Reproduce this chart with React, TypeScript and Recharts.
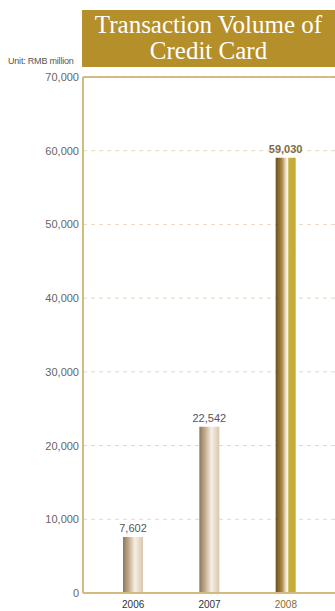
import React from 'react';
import {
  BarChart,
  Bar,
  XAxis,
  YAxis,
  CartesianGrid,
  ReferenceLine,
  LabelList,
  Cell,
} from 'recharts';

const years = ['2006', '2007', '2008'];
const volumes = [7602, 22542, 59030];
const yTicks = [0, 10000, 20000, 30000, 40000, 50000, 60000, 70000];

const data = years.map((year, i) => ({ year, volume: volumes[i] }));

const GOLD = '#b58f2a';
const HIGHLIGHT = '2008';

const fmt = (v: number) => v.toLocaleString('en-US');

const XTick = (props: any) => {
  const { x, payload } = props;
  const hot = payload.value === HIGHLIGHT;
  return (
    <text x={x} y={608} textAnchor="middle" fontSize={10} fill={hot ? '#8a6a30' : '#333'}>
      {payload.value}
    </text>
  );
};

const YTick = (props: any) => {
  const { y, payload } = props;
  return (
    <text x={79} y={y + 4} textAnchor="end" fontSize={11} fill="#666">
      {fmt(payload.value)}
    </text>
  );
};

const ValueLabel = (props: any) => {
  const { x, y, width, value, index } = props;
  const hot = years[index] === HIGHLIGHT;
  return (
    <text
      x={x + width / 2}
      y={y - 5}
      textAnchor="middle"
      fontSize={11}
      fontWeight={hot ? 'bold' : 'normal'}
      fill={hot ? '#7d6a45' : '#555'}
    >
      {fmt(value)}
    </text>
  );
};

const App: React.FC = () => {
  return (
    <div
      style={{
        position: 'absolute',
        left: 0,
        top: 0,
        width: 335,
        height: 611,
        fontFamily: '"Liberation Sans", Arial, sans-serif',
        background: '#fff',
      }}
    >
      <div
        style={{
          position: 'absolute',
          left: 82,
          top: 10,
          width: 253,
          height: 57,
          background: GOLD,
          color: '#fff',
          fontFamily: '"Liberation Serif", "Times New Roman", serif',
          fontSize: 25,
          lineHeight: '26px',
          textAlign: 'center',
          paddingTop: 2,
          boxSizing: 'border-box',
          whiteSpace: 'nowrap',
        }}
      >
        Transaction Volume of
        <br />
        Credit Card
      </div>
      <div
        style={{
          position: 'absolute',
          left: 8,
          top: 56,
          fontSize: 9,
          color: '#555',
          letterSpacing: -0.2,
        }}
      >
        Unit: RMB million
      </div>
      <BarChart
        width={335}
        height={611}
        data={data}
        margin={{ top: 77, right: 0, left: 0, bottom: 0 }}
        style={{ fontFamily: '"Liberation Sans", Arial, sans-serif' }}
      >
        <defs>
          <linearGradient id="beige" x1="0" y1="0" x2="1" y2="0">
            <stop offset="0%" stopColor="#8f7658" />
            <stop offset="35%" stopColor="#cdb89c" />
            <stop offset="60%" stopColor="#f6efe6" />
            <stop offset="100%" stopColor="#d9c6ad" />
          </linearGradient>
          <linearGradient id="goldbar" x1="0" y1="0" x2="1" y2="0">
            <stop offset="0%" stopColor="#6a5020" />
            <stop offset="30%" stopColor="#a8843e" />
            <stop offset="50%" stopColor="#e8dcc0" />
            <stop offset="58%" stopColor="#ffffff" />
            <stop offset="66%" stopColor="#c8b040" />
            <stop offset="100%" stopColor="#c4a832" />
          </linearGradient>
        </defs>
        <CartesianGrid
          vertical={false}
          stroke="#e8d6bb"
          strokeDasharray="4 4"
        />
        <XAxis
          dataKey="year"
          height={18}
          axisLine={{ stroke: '#d4bb80', strokeWidth: 2 }}
          tickLine={false}
          tick={<XTick />}
          padding={{ left: 12, right: 11 }}
          interval={0}
        />
        <YAxis
          width={83}
          domain={[0, 70000]}
          ticks={yTicks}
          axisLine={{ stroke: '#d4bb80', strokeWidth: 2 }}
          tickLine={false}
          tick={<YTick />}
        />
        <ReferenceLine y={70000} stroke="#c8a860" strokeWidth={1.5} />
        <Bar dataKey="volume" barSize={20} isAnimationActive={false}>
          {data.map((d) => (
            <Cell key={d.year} fill={d.year === HIGHLIGHT ? 'url(#goldbar)' : 'url(#beige)'} />
          ))}
          <LabelList dataKey="volume" content={<ValueLabel />} />
        </Bar>
      </BarChart>
    </div>
  );
};

export default App;
